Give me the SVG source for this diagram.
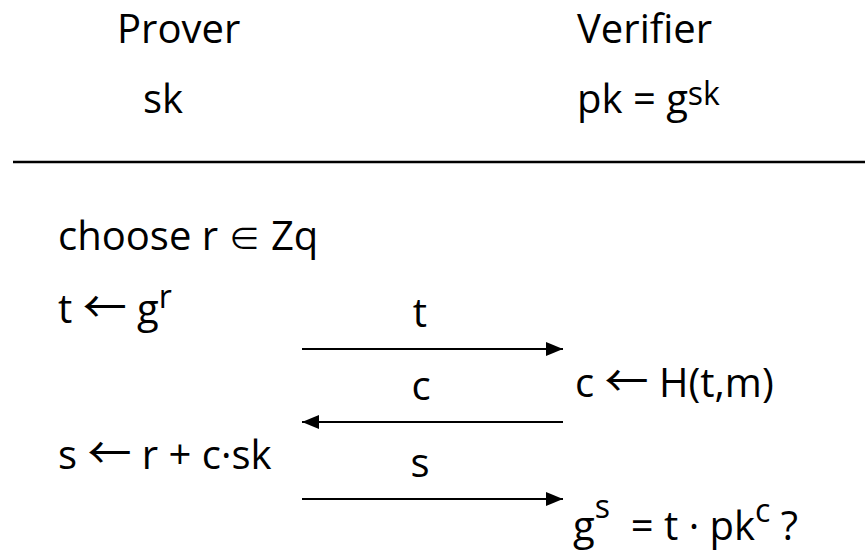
<svg xmlns="http://www.w3.org/2000/svg" width="865" height="556" viewBox="0 0 865 556">
<style>
text{font-family:"Open Sans","DejaVu Sans",sans-serif;font-size:40px;fill:#000}
.sup{font-size:32px}
.arr{font-family:"Noto Sans CJK SC","DejaVu Sans",sans-serif;font-size:44px}
.el{font-family:"Noto Sans CJK SC","DejaVu Sans",sans-serif;font-size:32px}
.conn line{stroke:#000;stroke-width:2.2}
</style>
<defs>
<marker id="ah" markerUnits="userSpaceOnUse" markerWidth="18" markerHeight="14" refX="17" refY="7" orient="auto">
<path d="M0,0 L17,7 L0,14 Z" fill="#000"/>
</marker>
</defs>
<rect width="865" height="556" fill="#fff"/>
<g id="prover-header">
<text x="117" y="43">Prover</text>
<text x="143" y="113">sk</text>
</g>
<g id="verifier-header">
<text x="577" y="43">Verifier</text>
<text x="577" y="113">pk = g<tspan class="sup" dy="-8">sk</tspan></text>
</g>
<g id="divider">
<line x1="13" y1="162" x2="865" y2="162" stroke="#000" stroke-width="2.5"/>
</g>
<g id="prover-steps">
<text x="58" y="250">choose r <tspan class="el">∈</tspan> Zq</text>
<text x="58" y="323">t <tspan class="arr">←</tspan> g<tspan class="sup" dy="-15">r</tspan></text>
<text x="58" y="469">s <tspan class="arr">←</tspan> r + c·sk</text>
</g>
<g id="verifier-steps">
<text x="575" y="397">c <tspan class="arr">←</tspan> H(t,m)</text>
<text x="573" y="540" xml:space="preserve">g<tspan class="sup" dy="-22">s</tspan><tspan dy="22">  = t · pk</tspan><tspan class="sup" dy="-18">c</tspan><tspan dy="18"> ?</tspan></text>
</g>
<g id="connectors" class="conn">
<line x1="302" y1="349" x2="563" y2="349" marker-end="url(#ah)"/>
<line x1="563" y1="422" x2="302" y2="422" marker-end="url(#ah)"/>
<line x1="302" y1="499" x2="563" y2="499" marker-end="url(#ah)"/>
</g>
<g id="labels">
<text x="420" y="327" text-anchor="middle">t</text>
<text x="421" y="400" text-anchor="middle">c</text>
<text x="420" y="477" text-anchor="middle">s</text>
</g>
</svg>
